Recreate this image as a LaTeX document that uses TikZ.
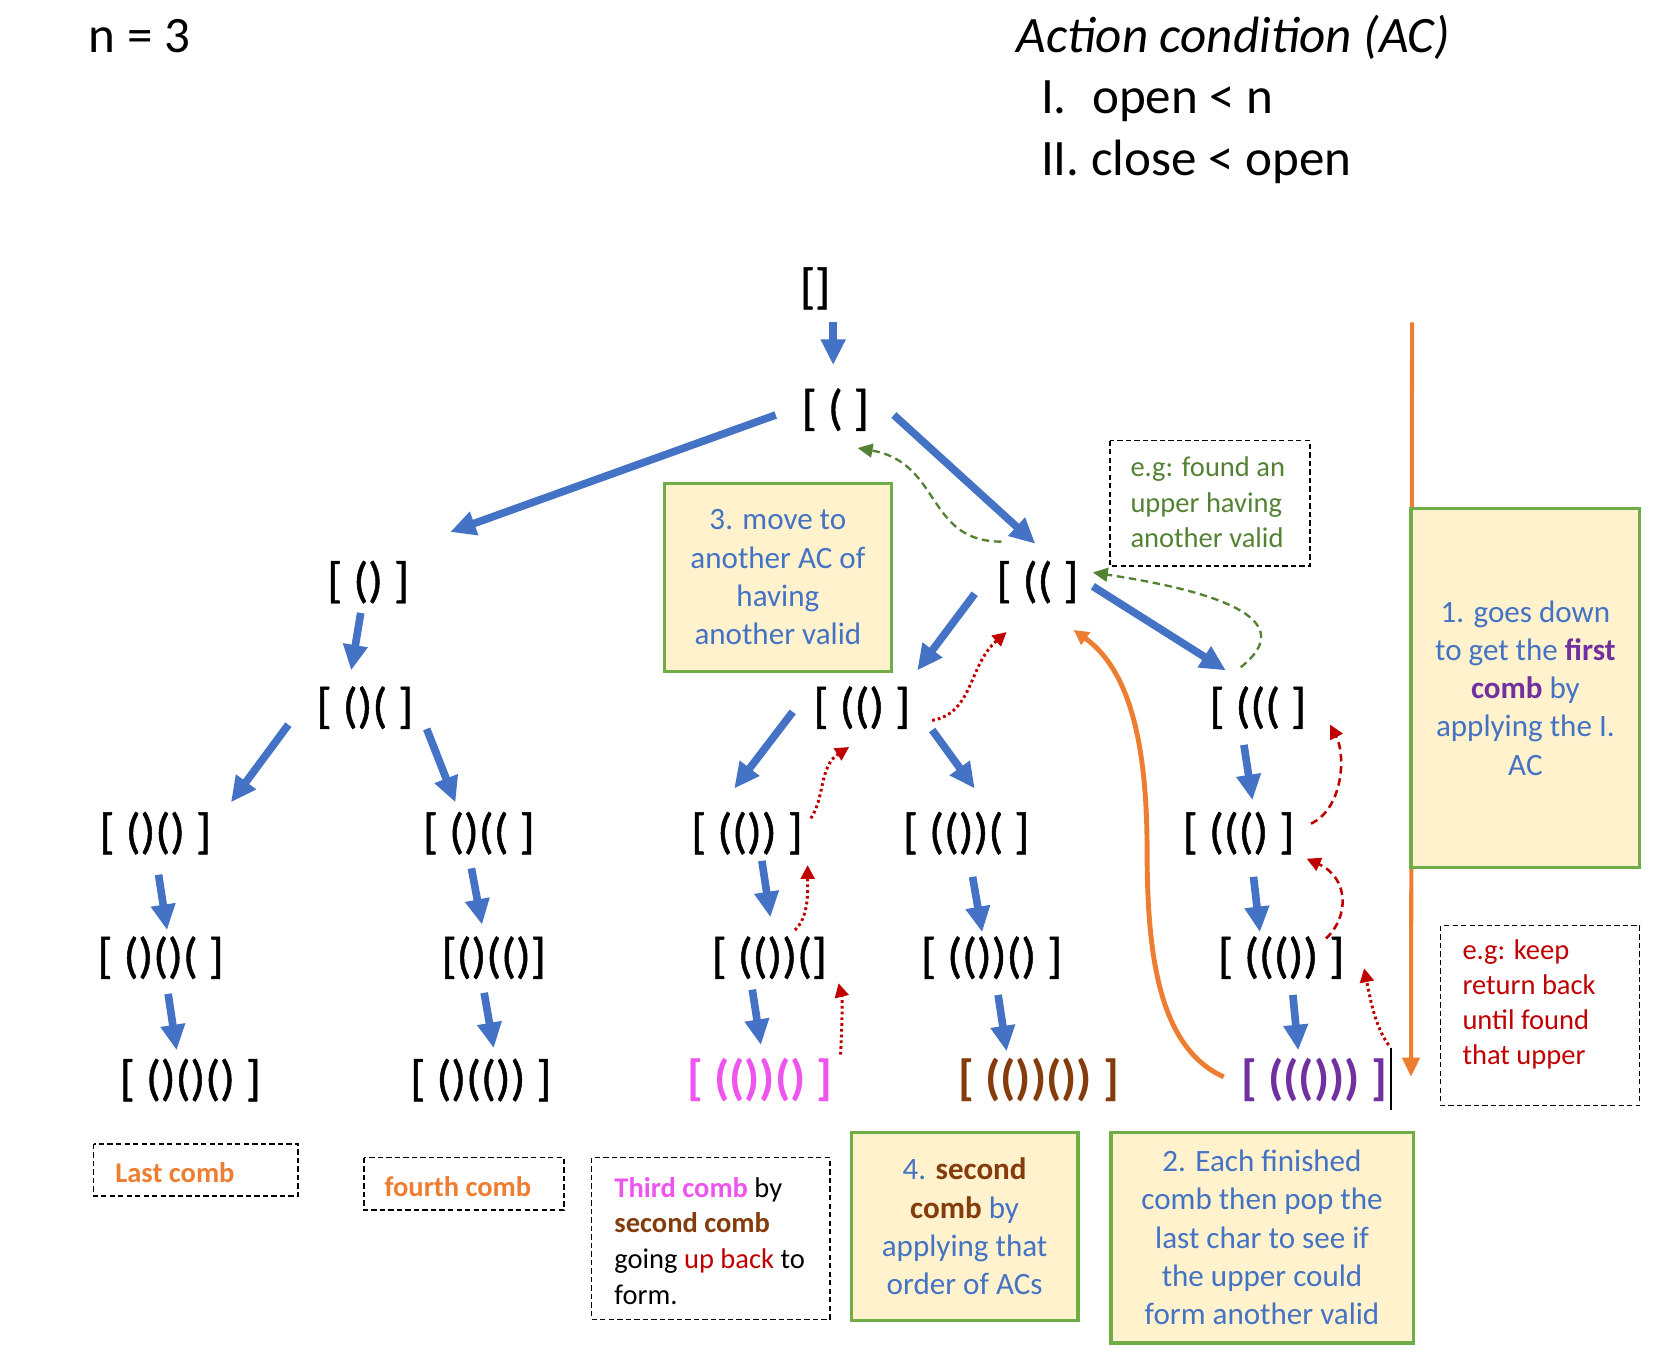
\documentclass[tikz,border=0pt]{standalone}
\usepackage{fontspec}
\setmainfont{Carlito}
\newfontfamily\treefont{Carlito}[FakeBold=1]
\usetikzlibrary{arrows.meta,calc}
\definecolor{myblue}{HTML}{4472C4}
\definecolor{mygreen}{HTML}{548235}
\definecolor{boxgreen}{HTML}{70AD47}
\definecolor{cream}{HTML}{FFF2CC}
\definecolor{myred}{HTML}{C00000}
\definecolor{myorange}{HTML}{ED7D31}
\definecolor{mymagenta}{HTML}{EE55EE}
\definecolor{mybrown}{HTML}{843C0C}
\definecolor{mypurple}{HTML}{7030A0}
\begin{document}
\begin{tikzpicture}[x=0.5pt,y=-0.5pt,
  lbl/.style={inner sep=0pt,font=\treefont\fontsize{23}{28}\selectfont},
  clbl/.style={inner sep=0pt,font=\fontsize{23}{28}\selectfont\bfseries},
  big/.style={inner sep=0pt,font=\fontsize{24}{29}\selectfont},
  barrow/.style={draw=myblue,line width=3.6pt,-{Triangle[length=12pt,width=11pt]}},
  gdash/.style={draw=mygreen,line width=1.1pt,dash pattern=on 3.5pt off 2.2pt,-{Triangle[length=7pt,width=6.5pt]}},
  rdot/.style={draw=myred,line width=1.4pt,dash pattern=on 1.3pt off 1.4pt,-{Triangle[length=6.5pt,width=6.5pt]}},
  rdash/.style={draw=myred,line width=1.2pt,dash pattern=on 3.5pt off 2.2pt,-{Triangle[length=6.5pt,width=6.5pt]}},
  oarrow/.style={draw=myorange,line width=2.3pt,-{Triangle[length=7pt,width=7pt]}},
  gbox/.style={draw=boxgreen,fill=cream,line width=1.5pt,inner sep=0pt,align=center,
    font=\fontsize{14.6}{18}\selectfont,text=myblue},
  dbox/.style={draw=black,line width=0.6pt,dash pattern=on 2.5pt off 1.5pt},
  dtext/.style={inner sep=0pt,align=left,font=\fontsize{13.4}{16.5}\selectfont}
]
\useasboundingbox (0,0) rectangle (1560,1282);

% titles
\node[big,anchor=base west] (title) at (83,49) {n = 3};
\node[big,anchor=base west] (ac) at (955,49) {\itshape Action condition (AC)};
\node[big,anchor=base west] (ac1l) at (978,106.5) {I.};
\node[big,anchor=base west] (ac1) at (1026,106.5) {open < n};
\node[big,anchor=base west] (ac2l) at (978,164.5) {II.};
\node[big,anchor=base west] (ac2) at (1025,164.5) {close < open};

% orange vertical line (behind box 1)
\coordinate (otop) at (1327,303);
\coordinate (obot) at (1326,1012);
\draw[draw=myorange,line width=1.9pt,-{Triangle[length=9pt,width=8pt]}] (otop) -- (obot);

% tree nodes
\node[lbl] (root) at (766,271) {[]};
\node[lbl] (n1) at (785,385) {[ ( ]};
\node[lbl] (L) at (346,547) {[ () ]};
\node[lbl] (R) at (975,547) {[ (( ]};
\node[lbl] (L1) at (343,665) {[ ()( ]};
\node[lbl] (RL) at (810,665) {[ (() ]};
\node[lbl] (RR) at (1182,665) {[ ((( ]};
\node[lbl] (A1) at (146,783) {[ ()() ]};
\node[lbl] (A2) at (450,783) {[ ()(( ]};
\node[lbl] (A3) at (702,783) {[ (()) ]};
\node[lbl] (A4) at (908,783) {[ (())( ]};
\node[lbl] (A5) at (1164,783) {[ ((() ]};
\node[lbl] (B1) at (151,900) {[ ()()( ]};
\node[lbl] (B2) at (464,900) {[()(()]};
\node[lbl] (B3) at (723,900) {[ (())(]};
\node[lbl] (B4) at (932,900) {[ (())() ]};
\node[lbl] (B5) at (1204,900) {[ ((()) ]};
\node[lbl] (C1) at (179,1015) {[ ()()() ]};
\node[lbl] (C2) at (452,1015) {[ ()(()) ]};
\node[clbl,text=mymagenta] (C3) at (714,1015) {[ (())() ]};
\node[clbl,text=mybrown] (C4) at (976,1015) {[ (())()) ]};
\node[clbl,text=mypurple] (C5) at (1235,1015) {[ ((())) ]};

% cursor mark
\coordinate (cur1) at (1307,985);
\coordinate (cur2) at (1307,1043);
\draw[line width=0.8pt] (cur1) -- (cur2);

% blue arrows
\draw[barrow] ($(root)+(17,32)$) -- ($(n1)+(-2,-42)$);
\draw[barrow] ($(n1)+(-56,5)$) -- ($(L)+(77,-47)$);
\draw[barrow] ($(n1)+(55,5)$) -- ($(R)+(-2,-36)$);
\draw[barrow] ($(L)+(-7,29)$) -- ($(L1)+(-13,-35)$);
\draw[barrow] ($(R)+(-59,11)$) -- ($(RL)+(52,-35)$);
\draw[barrow] ($(R)+(52,4)$) -- ($(RR)+(-30,-35)$);
\draw[barrow] ($(L1)+(-72,16)$) -- ($(A1)+(71,-29)$);
\draw[barrow] ($(L1)+(58,20)$) -- ($(A2)+(-22,-29)$);
\draw[barrow] ($(RL)+(-65,4)$) -- ($(A3)+(-12,-42)$);
\draw[barrow] ($(RL)+(66,21)$) -- ($(A4)+(8,-42)$);
\draw[barrow] ($(RR)+(-13,35)$) -- ($(A5)+(13,-31)$);
\draw[barrow] ($(A1)+(3,39)$) -- ($(B1)+(6,-26)$);
\draw[barrow] ($(A2)+(-7,33)$) -- ($(B2)+(-11,-31)$);
\draw[barrow] ($(A3)+(14,26)$) -- ($(B3)+(1,-38)$);
\draw[barrow] ($(A4)+(6,41)$) -- ($(B4)+(-9,-24)$);
\draw[barrow] ($(A5)+(14,41)$) -- ($(B5)+(-20,-24)$);
\draw[barrow] ($(B1)+(7,34)$) -- ($(C1)+(-13,-28)$);
\draw[barrow] ($(B2)+(-9,33)$) -- ($(C2)+(12,-30)$);
\draw[barrow] ($(B3)+(-16,30)$) -- ($(C3)+(1,-33)$);
\draw[barrow] ($(B4)+(6,35)$) -- ($(C4)+(-30,-27)$);
\draw[barrow] ($(B5)+(11,35)$) -- ($(C5)+(-15,-28)$);

% green dashed returns
\draw[gdash] ($(R)+(-34,-38)$) .. controls +(-71,0) and +(79,14) .. ($(n1)+(21,36)$);
\draw[gdash] ($(RR)+(-16,-38)$) .. controls +(34,-27) and +(178,27) .. ($(R)+(52,-9)$);

% red dotted returns
\draw[rdot] ($(RL)+(66,12)$) .. controls +(39,-7) and +(-36,31) .. ($(R)+(-29,47)$);
\draw[rdot] ($(A3)+(60,-14)$) .. controls +(13,-19) and +(-28,18) .. ($(RL)+(-12,37)$);
\draw[rdot] ($(B3)+(24,-26)$) .. controls +(13,-12) and +(0,26) .. ($(A3)+(57,30)$);
\draw[rdot] ($(C3)+(76,-24)$) .. controls +(1,-21) and +(4,16) .. ($(B3)+(65,24)$);
\draw[rdot] ($(C5)+(70,-33)$) .. controls +(-13,-17) and +(5,25) .. ($(B5)+(78,10)$);

% red dashed returns
\draw[rdash] ($(B5)+(42,-18)$) .. controls +(22,-20) and +(40,18) .. ($(A5)+(64,24)$);
\draw[rdash] ($(A5)+(68,-9)$) .. controls +(30,-14) and +(15,29) .. ($(RR)+(68,16)$);

% orange return curve
\draw[oarrow] ($(C5)+(-85,-3)$) .. controls +(-60,-27) and +(0,100) .. ++(-72,-212)
  .. controls +(0,-100) and +(53,38) .. ($(R)+(34,45)$);

% green boxes
\node[gbox,minimum width=106.5pt,minimum height=88.5pt] (box3) at (731,542.5)
  {3. move to\\another AC of\\having\\another valid};
\node[gbox,minimum width=107.5pt,minimum height=168.5pt] (box1) at (1433.5,646.5)
  {1. goes down\\to get the \textcolor{mypurple}{\bfseries first}\\\textcolor{mypurple}{\bfseries comb} by\\applying the I.\\AC};
\node[gbox,minimum width=142pt,minimum height=99pt] (box2) at (1186,1163)
  {2. Each finished\\comb then pop the\\last char to see if\\the upper could\\form another valid};
\node[gbox,minimum width=106.5pt,minimum height=88.5pt] (box4) at (906.5,1152.5)
  {4. \textcolor{mybrown}{\bfseries second}\\\textcolor{mybrown}{\bfseries comb} by\\applying that\\order of ACs};

% dashed boxes
\draw[dbox] (1043,414) rectangle (1231,532);
\node[dtext,anchor=west,text=mygreen] (found) at (1062,472)
  {e.g: found an\\upper having\\another valid};
\draw[dbox] (1354,870) rectangle (1541,1039);
\node[dtext,anchor=west,text=myred] (keep) at (1374,944)
  {e.g: keep\\return back\\until found\\that upper};
\draw[dbox] (88,1075) rectangle (280,1124);
\node[dtext,anchor=west,text=myorange] (last) at (108,1102) {\bfseries Last comb};
\draw[dbox] (342,1088) rectangle (530,1137);
\node[dtext,anchor=west,text=myorange] (fourth) at (361,1115) {\bfseries fourth comb};
\draw[dbox] (556,1088) rectangle (780,1240);
\node[dtext,anchor=west,font=\fontsize{13.4}{16.8}\selectfont] (third) at (577,1166)
  {\textcolor{mymagenta}{\bfseries Third comb} by\\\textcolor{mybrown}{\bfseries second comb}\\going \textcolor{myred}{up back} to\\form.};
\end{tikzpicture}
\end{document}
